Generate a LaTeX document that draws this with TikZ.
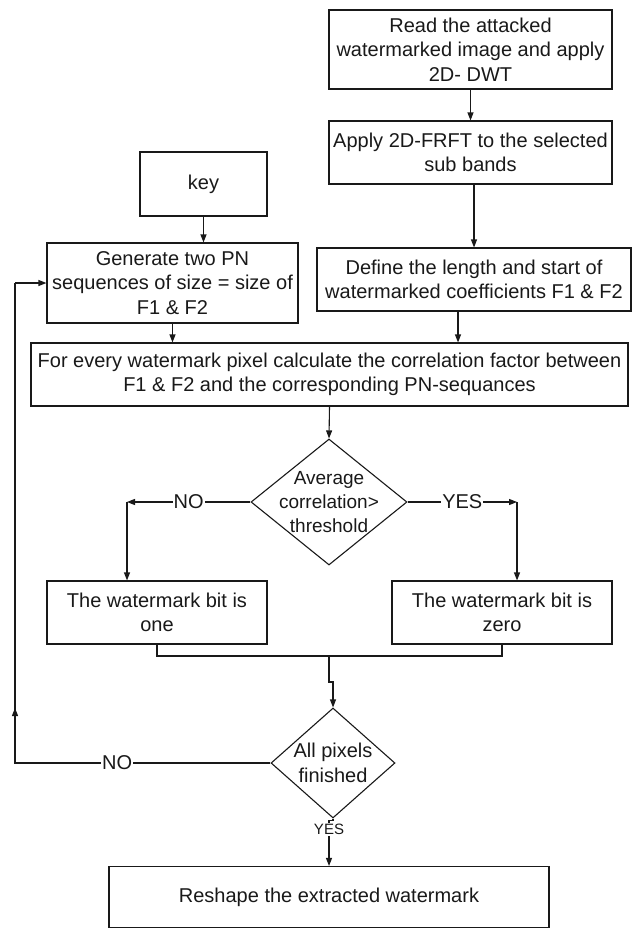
\documentclass[tikz,border=0pt]{standalone}
\usepackage{fontspec}
\setmainfont{Liberation Sans}
\usetikzlibrary{shapes.geometric,arrows.meta,calc}
\begin{document}
\begin{tikzpicture}[x=1pt,y=-1pt,
  every node/.style={font=\fontsize{20}{24.5}\selectfont, text=black!90},
  box/.style={draw=black!90, line width=1.1pt, inner sep=0pt, align=center},
  dia/.style={draw=black!90, diamond, line width=1.1pt, inner sep=0pt},
  ln/.style={line width=1.1pt, draw=black!90},
  arr/.style={ln, -{Triangle[length=8pt,width=6pt]}},
  lab/.style={fill=white, inner sep=1pt}]
\useasboundingbox (0,0) rectangle (635,929);

\node[box, minimum width=283pt, minimum height=79pt] (top) at (470.5,49.5)
  {Read the attacked\\watermarked image and apply\\2D- DWT};
\node[box, minimum width=283pt, minimum height=63pt] (frft) at (470.5,152.5)
  {Apply 2D-FRFT to the selected\\sub bands};
\node[box, minimum width=314pt, minimum height=63pt] (def) at (474,279.5)
  {Define the length and start of\\watermarked coefficients F1 \& F2};
\node[box, minimum width=127pt, minimum height=64pt] (key) at (203.5,184) {key};
\node[box, minimum width=251pt, minimum height=80pt] (gen) at (172.5,283)
  {Generate two PN\\sequences of size = size of\\F1 \& F2};
\node[box, minimum width=597pt, minimum height=63pt] (big) at (329.5,374.5)
  {For every watermark pixel calculate the correlation factor between\\F1 \& F2 and the corresponding PN-sequances};
\node[dia, minimum width=156pt, minimum height=126pt] (d1) at (329,502) {};
\node[align=center, inner sep=0pt, font=\fontsize{19}{24}\selectfont] (d1t) at (329,502) {Average\\correlation>\\threshold};
\node[box, minimum width=220pt, minimum height=63pt] (one) at (157,612.5)
  {The watermark bit is\\one};
\node[box, minimum width=220pt, minimum height=63pt] (zero) at (502,612.5)
  {The watermark bit is\\zero};
\node[dia, minimum width=124pt, minimum height=110pt] (d2) at (333,763) {};
\node[align=center, inner sep=0pt] (d2t) at (333,763) {All pixels\\finished};
\node[box, minimum width=440pt, minimum height=61pt] (resh) at (329,897)
  {Reshape the extracted watermark};

\coordinate (nL) at (127,502);
\coordinate (nR) at (517,502);
\coordinate (jn) at (329,656);
\coordinate (lp) at (15,763);
\coordinate (lt) at (15,283);

\draw[arr] (top) -- (frft);
\draw[arr] (frft.south -| def.north) -- (def.north);
\draw[arr] (key.south) -- (key.south |- gen.north);
\draw[arr] (gen.south) -- (gen.south |- big.north);
\draw[arr] ($(def.south)+(-16,0)$) -- ($(def.south |- big.north)+(-16,0)$);
\draw[arr] (big.south) -- (d1.north);

\draw[arr] (d1.west) -- node[lab]{NO} (nL);
\draw[arr] (nL) -- (nL |- one.north);
\draw[arr] (d1.east) -- node[lab]{YES} (nR);
\draw[arr] (nR) -- (nR |- zero.north);

\draw[ln] (one.south) |- (jn) -| (zero.south);
\draw[arr] (jn) -- ++(0,26) -| (d2.north);

\draw[ln] (d2.west) -- node[lab, pos=0.6]{NO} (lp) -- (lt);
\draw[arr] (lp) -- (15,708);
\draw[arr] (lt) -- (gen.west);

\draw[arr] (d2.south) -- ++(0,2) -| node[lab, pos=0.6, font=\fontsize{15}{18}\selectfont]{YES} (resh.north);
\end{tikzpicture}
\end{document}
